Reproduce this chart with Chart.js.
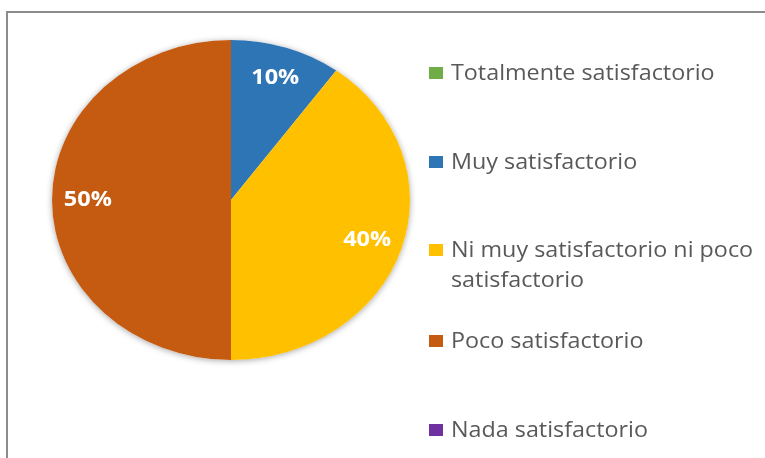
<!DOCTYPE html>
<html>
<head>
<meta charset="utf-8">
<script src="https://cdn.jsdelivr.net/npm/chart.js@4.4.1/dist/chart.umd.min.js"></script>
<style>
  html, body { margin: 0; padding: 0; background: #fff; overflow: hidden; }
  .frame { position: absolute; left: 6px; top: 11px; width: 800px; height: 500px; border: 2px solid #8c8c8c; }
  #pieChart { position: absolute; left: 0; top: 0; }
</style>
</head>
<body>
<div class="frame"></div>
<canvas id="pieChart" width="765" height="458"></canvas>
<script>
// categories and values
const categories = [
    'Totalmente satisfactorio',
    'Muy satisfactorio',
    ['Ni muy satisfactorio ni poco', 'satisfactorio'],
    'Poco satisfactorio',
    'Nada satisfactorio'
];
const percentValues = [0, 10, 40, 50, 0];
const sliceColors = ['#70AD47', '#2E75B6', '#FFC000', '#C55A11', '#7030A0'];

const STRETCH = 179 / 160; // the source pie is an ellipse, wider than tall

// squash the pie horizontally and put a soft shadow under it
const stretchPlugin = {
    id: 'stretch',
    beforeDatasetsDraw(chart) {
        const { ctx, chartArea: a } = chart;
        const cx = (a.left + a.right) / 2, cy = (a.top + a.bottom) / 2;
        const r = chart.getDatasetMeta(0).data[0].outerRadius;
        ctx.save();
        ctx.translate(cx, cy);
        ctx.scale(STRETCH, 1);
        ctx.translate(-cx, -cy);
        ctx.save();
        ctx.shadowColor = 'rgba(0,0,0,0.35)';
        ctx.shadowBlur = 6;
        ctx.shadowOffsetY = 1;
        ctx.beginPath();
        ctx.arc(cx, cy, r, 0, Math.PI * 2);
        ctx.fillStyle = '#fff';
        ctx.fill();
        ctx.restore();
    },
    afterDatasetsDraw(chart) {
        const { ctx, chartArea: a } = chart;
        ctx.restore();
        // percent labels inside the slices
        const cx = (a.left + a.right) / 2;
        const data = chart.data.datasets[0].data;
        const total = data.reduce((s, v) => s + v, 0);
        ctx.save();
        ctx.fillStyle = '#fff';
        ctx.font = 'bold 21px "Open Sans"';
        ctx.textAlign = 'center';
        ctx.textBaseline = 'middle';
        chart.getDatasetMeta(0).data.forEach((arc, i) => {
            if (!data[i]) return;
            const mid = (arc.startAngle + arc.endAngle) / 2;
            const k = arc.outerRadius * 0.8;
            const px = cx + (arc.x + Math.cos(mid) * k - cx) * STRETCH;
            const py = arc.y + Math.sin(mid) * k;
            ctx.save();
            ctx.translate(px, py);
            ctx.scale(STRETCH, 1);
            ctx.fillText(Math.round(data[i] / total * 100) + '%', 0, 0);
            ctx.restore();
        });
        ctx.restore();
    }
};

// legend on the right, spaced like the original
const sideLegend = {
    id: 'sideLegend',
    afterDraw(chart) {
        const ctx = chart.ctx;
        const baselines = [80, 169, 257, 348, 437];
        const boxX = 429, textX = 451, lineH = 30;
        ctx.save();
        ctx.font = '22px "Open Sans"';
        ctx.textBaseline = 'alphabetic';
        chart.data.labels.forEach((label, i) => {
            const lines = Array.isArray(label) ? label : [label];
            const y = baselines[i];
            ctx.fillStyle = chart.data.datasets[0].backgroundColor[i];
            ctx.fillRect(boxX, y - 13, 14, 12);
            ctx.fillStyle = '#595959';
            lines.forEach((ln, j) => {
                ctx.save();
                ctx.translate(textX, y + j * lineH);
                ctx.scale(1.06, 1);
                ctx.fillText(ln, 0, 0);
                ctx.restore();
            });
        });
        ctx.restore();
    }
};

const ctx = document.getElementById('pieChart').getContext('2d');
new Chart(ctx, {
    type: 'pie',
    data: {
        labels: categories,
        datasets: [{
            data: percentValues,
            backgroundColor: sliceColors,
            borderWidth: 0
        }]
    },
    options: {
        responsive: false,
        animation: false,
        layout: { padding: { left: 71, right: 374, top: 40, bottom: 98 } },
        plugins: {
            legend: { display: false },
            tooltip: { enabled: false }
        }
    },
    plugins: [stretchPlugin, sideLegend]
});
</script>
</body>
</html>
